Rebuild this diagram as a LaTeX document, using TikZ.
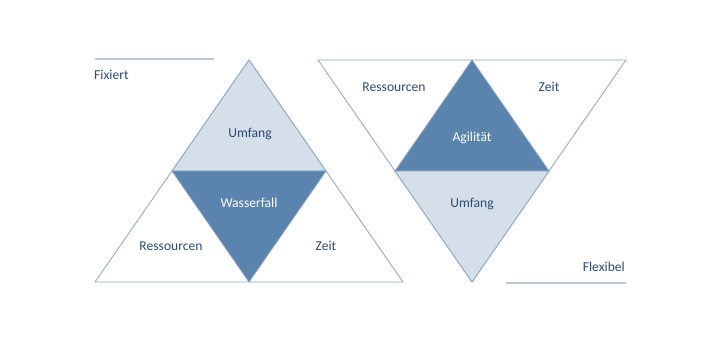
\documentclass[tikz,border=0pt]{standalone}
\usepackage{fontspec}
\setmainfont{Carlito}
\usetikzlibrary{positioning}

\definecolor{edgeblue}{HTML}{8EA6C2}
\definecolor{darkfill}{HTML}{5A84AD}
\definecolor{lightfill}{HTML}{D5DFE9}
\definecolor{textblue}{HTML}{2C4C72}
\definecolor{barline}{HTML}{BCC8D6}

\begin{document}
\begin{tikzpicture}[
    x=1pt, y=-1pt,
    part/.style={draw=edgeblue, line width=0.8pt, line join=round, fill=#1},
    lbl/.style={font=\fontsize{13.6}{16}\selectfont, text=textblue, inner sep=1pt},
    inlbl/.style={lbl, text=white},
    bar/.style={draw=barline, line width=1.6pt}
  ]
  \useasboundingbox (0,0) rectangle (720,343);

  % Wasserfall
  \coordinate (wTop)  at (249,60);
  \coordinate (wLeft) at (95,282);
  \coordinate (wRight) at (403,282);
  \coordinate (wMidL) at (172,171);
  \coordinate (wMidR) at (326,171);
  \coordinate (wBot)  at (249,282);

  \path[part=white]     (wTop) -- (wLeft) -- (wRight) -- cycle;
  \path[part=lightfill] (wTop) -- (wMidL) -- (wMidR) -- cycle;
  \path[part=darkfill]  (wMidL) -- (wMidR) -- (wBot) -- cycle;

  \node[lbl]   (wScope) at (250,134) {Umfang};
  \node[inlbl] (wName)  at (249,203) {Wasserfall};
  \node[lbl]   (wRes)   at (171,246) {Ressourcen};
  \node[lbl]   (wTime)  at (326,246) {Zeit};

  % Agilitaet
  \coordinate (aLeft)  at (318,60);
  \coordinate (aRight) at (626,60);
  \coordinate (aBot)   at (472,282);
  \coordinate (aMidL)  at (395,171);
  \coordinate (aMidR)  at (549,171);
  \coordinate (aTop)   at (472,60);

  \path[part=white]     (aLeft) -- (aRight) -- (aBot) -- cycle;
  \path[part=darkfill]  (aTop) -- (aMidL) -- (aMidR) -- cycle;
  \path[part=lightfill] (aMidL) -- (aMidR) -- (aBot) -- cycle;

  \node[lbl]   (aRes)   at (394,87)  {Ressourcen};
  \node[lbl]   (aTime)  at (549,87)  {Zeit};
  \node[inlbl] (aName)  at (472,138) {Agilität};
  \node[lbl]   (aScope) at (472,204) {Umfang};

  % fixiert / flexibel
  \coordinate (fixA) at (95,59);
  \coordinate (fixB) at (214,59);
  \coordinate (flexA) at (506,283);
  \coordinate (flexB) at (626,283);
  \draw[bar] (fixA) -- (fixB);
  \draw[bar] (flexA) -- (flexB);
  \node[lbl, anchor=west] (fixed) at (93,75)  {Fixiert};
  \node[lbl, anchor=east] (flex)  at (626,267) {Flexibel};

\end{tikzpicture}
\end{document}
